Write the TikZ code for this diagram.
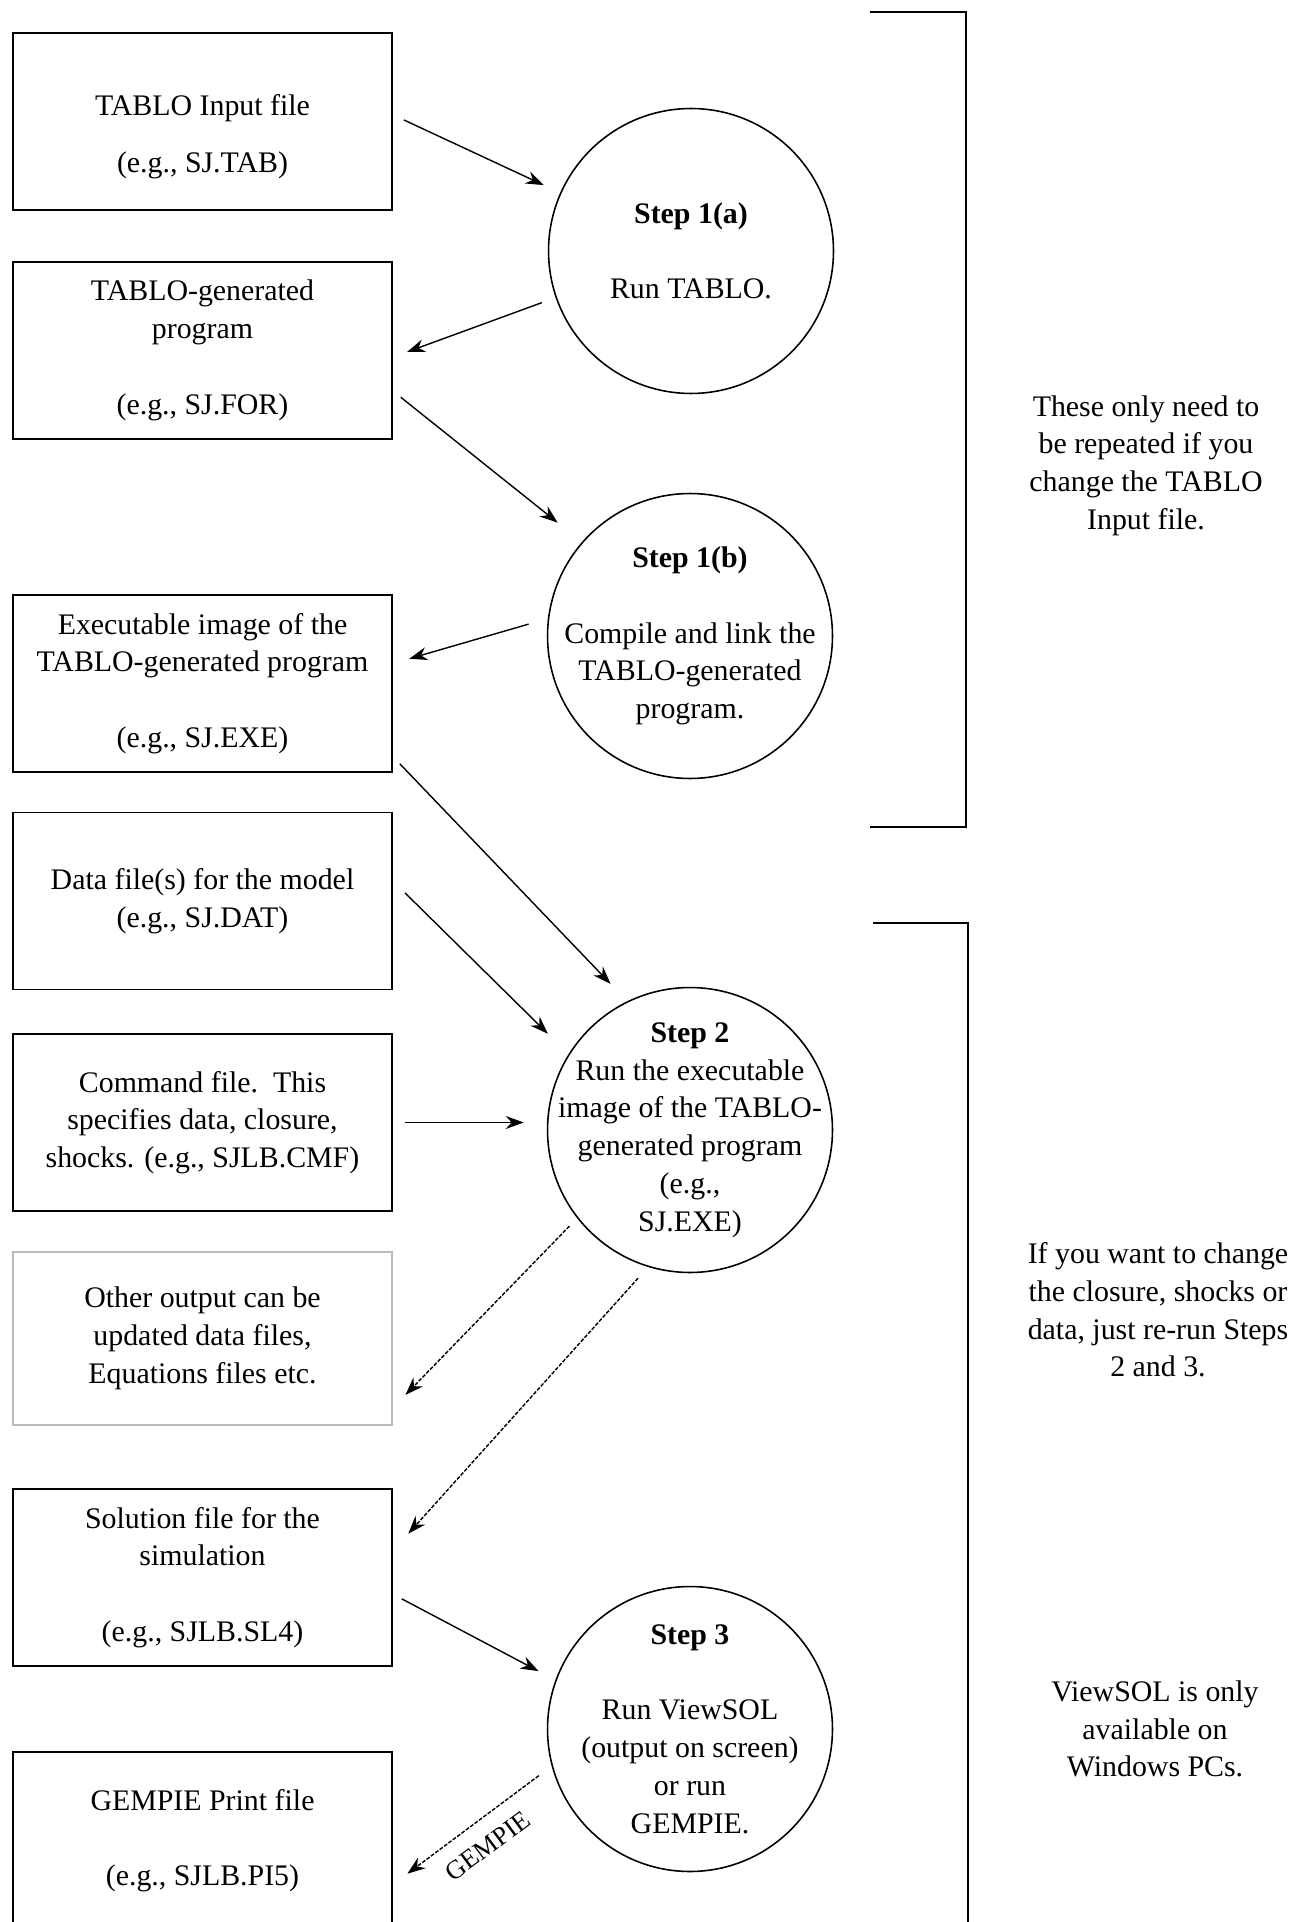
\documentclass[tikz,border=0pt]{standalone}
\usepackage{fontspec}
\setmainfont{Liberation Serif}
\usetikzlibrary{arrows.meta}

\tikzset{
  filebox/.style={draw, line width=1.1pt, minimum width=7.58cm, minimum height=3.54cm, inner sep=0pt},
  stepcircle/.style={draw, circle, line width=0.9pt, minimum size=5.7cm, inner sep=0pt},
  flow/.style={-{Stealth[length=3.6mm,width=2.6mm]}, line width=0.8pt},
  dotflow/.style={flow, dash pattern=on 2.2pt off 0.9pt},
  bracket/.style={line width=1.3pt}
}

\begin{document}
\begin{tikzpicture}[x=0.02cm, y=-0.02cm, align=center,
  every node/.style={font=\fontsize{17pt}{21.5pt}\selectfont}]
\useasboundingbox (0,0) rectangle (1311,1922);

% files on the left
\node[filebox] (b1) at (202.5,121.5) {\rule{0pt}{29pt}TABLO Input file\\[0.5\baselineskip](e.g., SJ.TAB)};
\node[filebox] (b2) at (202.5,350.5) {TABLO-generated\\program\\~\\(e.g., SJ.FOR)};
\node[filebox] (b3) at (202.5,683.5) {Executable image of the\\TABLO-generated program\\~\\(e.g., SJ.EXE)};
\node[filebox] (b4) at (202.5,901) {Data file(s) for the model\\(e.g., SJ.DAT)};
\node[filebox] (b5) at (202.5,1122.5) {Command file.\ \ This\\specifies data, closure,\\shocks. (e.g., SJLB.CMF)};
\node[filebox, draw=gray!55, minimum height=3.46cm] (b6) at (202.5,1338.5) {Other output can be\\updated data files,\\Equations files etc.};
\node[filebox] (b7) at (202.5,1577.5) {Solution file for the\\simulation\\~\\(e.g., SJLB.SL4)};
\node[filebox] (b8) at (202.5,1840.5) {GEMPIE Print file\\~\\(e.g., SJLB.PI5)};

% steps (text as label so the circles keep their size)
\node[stepcircle, label={center:{\textbf{Step 1(a)}\\~\\Run TABLO.}}] (s1a) at (691,251) {};
\node[stepcircle, label={center:{\textbf{Step 1(b)}\\~\\Compile and link the\\TABLO-generated\\program.}}] (s1b) at (690,636) {};
\node[stepcircle, label={center:{\textbf{Step 2}\\Run the executable\\image of the TABLO-\\generated program\\(e.g.,\\SJ.EXE)}}] (s2) at (690,1130) {};
\node[stepcircle, label={center:{\textbf{Step 3}\\~\\Run ViewSOL\\(output on screen)\\or run\\GEMPIE.}}] (s3) at (690,1729) {};

% notes
\node (n1) at (1146,465.5) {These only need to\\be repeated if you\\change the TABLO\\Input file.};
\node (n2) at (1158,1310) {If you want to change\\the closure, shocks or\\data, just re-run Steps\\2 and 3.};
\node (n3) at (1155,1729) {ViewSOL is only\\available on\\Windows PCs.};

\draw[bracket] (870,12) -- (966,12) -- (966,827) -- (870,827);
\draw[bracket] (873,923) -- (968,923) -- (968,1935);

% arrows
\draw[flow, shorten <=0.24cm, shorten >=0.36cm] (b1.2) -- (s1a.156);
\draw[flow, shorten <=0.29cm, shorten >=0.3cm] (s1a.199) -- (b2.-2);
\draw[flow, shorten <=0.2cm, shorten >=0.62cm] (b2.-12) -- (s1b.139);
\draw[flow, shorten <=0.4cm, shorten >=0.34cm] (s1b.173) -- (b3.6.5);
\draw[flow, shorten <=0.2cm, shorten >=0.48cm] (b3.-21) -- (s2.116);
\draw[flow, shorten <=0.34cm, shorten >=0.58cm] (b4.6) -- (s2.148);
\draw[flow, shorten <=0.24cm, shorten >=0.46cm] (b5.east) -- (b5.east -| s2.west);
\draw[dotflow, shorten <=0.22cm, shorten >=0.36cm] (s2.218) -- (b6.-20);
\draw[dotflow, shorten <=0.3cm, shorten >=0.46cm] (s2.253) -- (b7.8);
\draw[flow, shorten <=0.2cm, shorten >=0.38cm] (b7.-5) -- (s3.160);
\draw[dotflow, shorten <=0.32cm, shorten >=0.36cm] (s3.195) -- (b8.-13)
  node[midway, sloped, below=6pt, font=\fontsize{15pt}{18pt}\selectfont] {GEMPIE};
\end{tikzpicture}
\end{document}
